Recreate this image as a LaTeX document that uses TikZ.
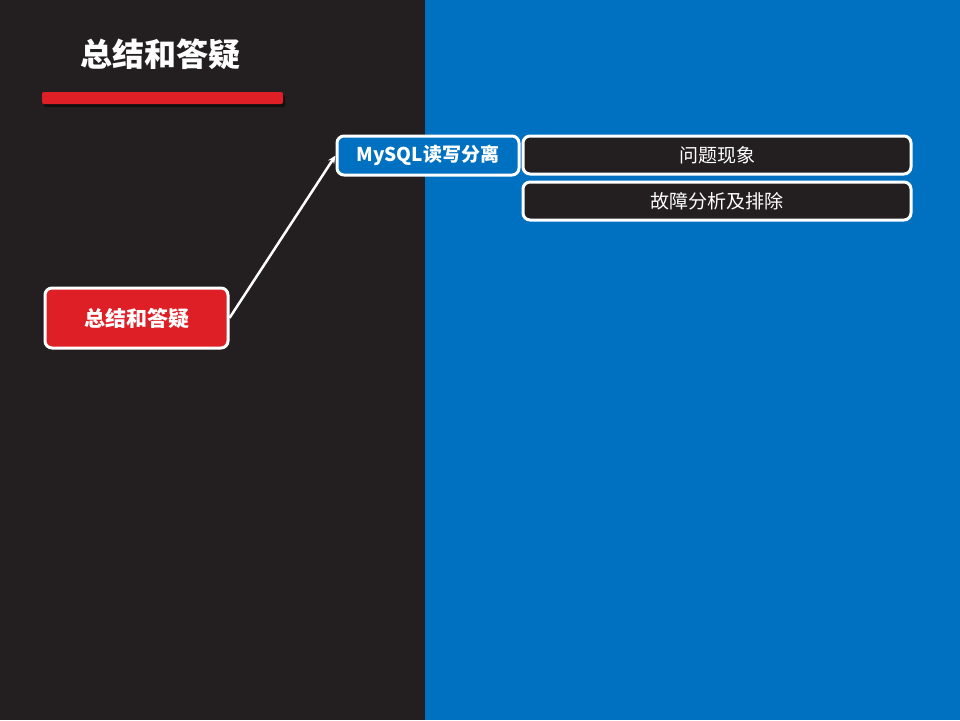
\documentclass[tikz,border=0pt]{standalone}
\usepackage{fontspec}
\setmainfont{Noto Sans CJK SC}
\usetikzlibrary{arrows.meta}
\definecolor{darkbg}{HTML}{231F20}
\definecolor{bluebg}{HTML}{0070C0}
\definecolor{redbox}{HTML}{DE1F26}
\tikzset{
  box/.style={draw=white, line width=3pt, rounded corners=7pt, text=white, inner sep=0pt},
}
\begin{document}
\begin{tikzpicture}[x=1pt, y=-1pt]
			\fill[darkbg] (0, 0) rectangle (425, 720);
			\fill[bluebg] (425, 0) rectangle (960, 720);
			\useasboundingbox (0, 0) rectangle (960, 720);

			\draw (160, 54) 	node[text=white, font=\bfseries\fontsize{32}{36}\selectfont] 	(title) 	{总结和答疑};
			\fill[black, opacity=0.5, rounded corners=2pt] (44, 95) rectangle (285, 107);
			\fill[redbox, rounded corners=2pt] (42, 92) rectangle (283, 104);

			\draw (136.5, 318) 	node[box, fill=redbox, minimum width=183pt, minimum height=60pt, font=\bfseries\fontsize{21}{25}\selectfont] 	(summary) 	{总结和答疑};
			\draw (428, 155.5) 	node[box, fill=bluebg, minimum width=182pt, minimum height=39pt, font=\bfseries\fontsize{19}{23}\selectfont] 	(mysql) 	{MySQL读写分离};
			\draw (717, 155) 	node[box, fill=darkbg, minimum width=388pt, minimum height=38pt, font=\fontsize{19}{23}\selectfont] 	(issue) 	{问题现象};
			\draw (717, 201) 	node[box, fill=darkbg, minimum width=388pt, minimum height=38pt, font=\fontsize{19}{23}\selectfont] 	(fault) 	{故障分析及排除};

			\draw[white, line width=2.5pt, -{Stealth[length=8pt, width=7pt]}] (summary.east) -- (mysql.west);
		\end{tikzpicture}
\end{document}
